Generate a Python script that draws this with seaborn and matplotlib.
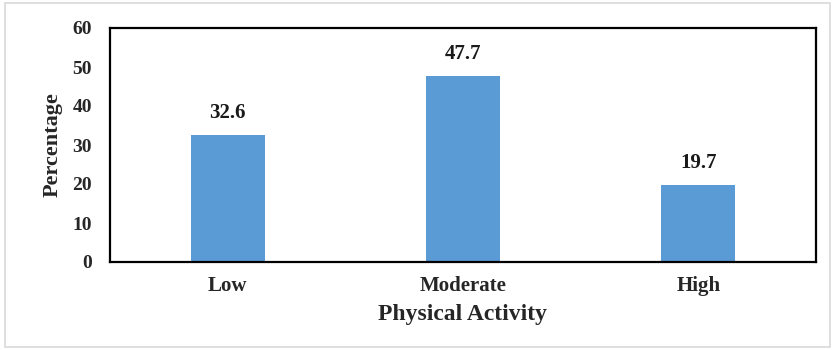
import matplotlib
matplotlib.use("Agg")
import matplotlib.pyplot as plt
from matplotlib.patches import Rectangle
import seaborn as sns
import pandas as pd

categories = ["Low", "Moderate", "High"]
percentages = [32.6, 47.7, 19.7]
y_ticks = [0, 10, 20, 30, 40, 50, 60]

sns.set_theme(style="white")
plt.rcParams["font.family"] = ["Liberation Serif", "DejaVu Serif"]
plt.rcParams["font.weight"] = "bold"

df = pd.DataFrame({"activity": categories, "pct": percentages})

fig = plt.figure(figsize=(8.32, 3.5), dpi=100)
ax = fig.add_axes([110 / 832, 1 - 262 / 350, 706 / 832, 234 / 350])

sns.barplot(data=df, x="activity", y="pct", color="#5B9BD5", saturation=1,
            width=0.315, ax=ax, edgecolor="none")

ax.set_ylim(0, 60)
ax.set_yticks(y_ticks)
ax.set_yticklabels([str(t) for t in y_ticks], fontsize=14, fontweight="bold")
ax.set_xticks(range(len(categories)))
ax.set_xticklabels(categories, fontsize=15, fontweight="bold")
ax.tick_params(axis="x", length=0, pad=10)
ax.tick_params(axis="y", length=0, pad=13)

for i, v in enumerate(percentages):
    ax.text(i, v + 3.0, f"{v}", ha="center", va="bottom",
            fontsize=15, fontweight="bold", color="#1a1a1a")

for sp in ax.spines.values():
    sp.set_visible(True)
    sp.set_color("black")
    sp.set_linewidth(1.6)

ax.set_xlabel("Physical Activity", fontsize=17, fontweight="bold", labelpad=6)
ax.set_ylabel("Percentage", fontsize=16, fontweight="bold", labelpad=7)

fig.patches.append(Rectangle((5 / 832, 3 / 350), 825 / 832, 344 / 350,
                             transform=fig.transFigure, fill=False,
                             edgecolor="#d9d9d9", linewidth=1.2))

fig.savefig("out.png", dpi=100, facecolor="white")
